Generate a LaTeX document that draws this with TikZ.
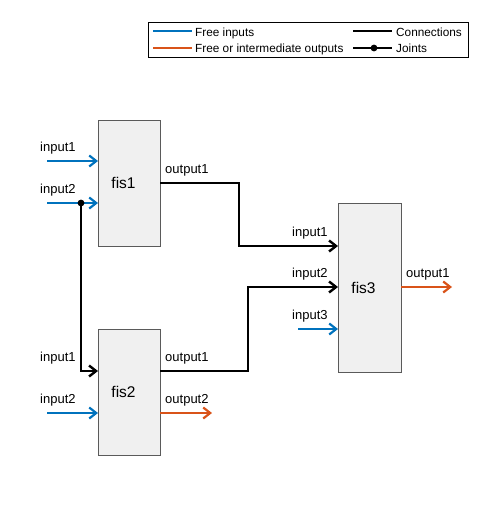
\documentclass[tikz,border=0pt]{standalone}
\usepackage{fontspec}
\setmainfont{Liberation Sans}
\usetikzlibrary{arrows.meta}

\definecolor{freeblue}{RGB}{0,114,189}
\definecolor{freeorange}{RGB}{217,83,25}
\definecolor{fisfill}{RGB}{240,240,240}
\definecolor{fisedge}{RGB}{90,90,90}

\begin{document}
\begin{tikzpicture}[
  x=1pt, y=-1pt, font=\fontsize{13}{15}\selectfont,
  fis/.style    ={rectangle, draw=fisedge, fill=fisfill, line width=0.9pt, anchor=north west,
                  inner xsep=13pt, inner ysep=0pt, align=left, minimum height=126pt,
                  text height=1.1em, text depth=0pt, font=\fontsize{15.5}{17}\selectfont},
  port/.style   ={anchor=base west, inner sep=0pt},
  legtext/.style={anchor=base west, inner sep=0pt, font=\fontsize{11.8}{13}\selectfont},
  tip/.style    ={-{Straight Barb[length=7pt, width=11pt]}},
  conn/.style   ={line width=2.4pt, black},
  freein/.style ={line width=2.2pt, freeblue},
  freeout/.style={line width=2.2pt, freeorange},
]
  \useasboundingbox (0,0) rectangle (490,505);

  % legend
  \node[draw, line width=0.8pt, fill=white, anchor=north west, minimum width=320pt,
        minimum height=35pt, inner sep=0pt] (legend) at (148,22) {};
  \foreach \n/\x/\y in {la/153/31, lb/153/48, lc/353/31, ld/353/48}
    \coordinate (\n) at (\x,\y);
  \foreach \n/\x/\y in {la/192/31, lb/192/48, lc/392/31, ld/392/48}
    \coordinate (\n-e) at (\x,\y);
  \draw[freein]  (la) -- (la-e);
  \draw[freeout] (lb) -- (lb-e);
  \draw[conn]    (lc) -- (lc-e);
  \draw[conn]    (ld) -- (ld-e);
  \fill (374,48) circle (3.4);
  \node[legtext] (la-t) at (195,36.5) {Free inputs};
  \node[legtext] (lb-t) at (195,53)   {Free or intermediate outputs};
  \node[legtext] (lc-t) at (396,36.5) {Connections};
  \node[legtext] (ld-t) at (396,53)   {Joints};

  % systems
  \node[fis, text width=36pt]                         (fis1) at (98,120)  {fis1};
  \node[fis, text width=36pt]                         (fis2) at (98,329)  {fis2};
  \node[fis, text width=37pt, minimum height=169pt]   (fis3) at (338,203) {fis3};

  % ports and free ends
  \foreach \n/\x/\y in {fis1-in1/98/161, fis1-in2/98/203, fis1-out1/160/183,
                        fis2-in1/98/371, fis2-in2/98/413, fis2-out1/160/371, fis2-out2/160/413,
                        fis3-in1/338/246, fis3-in2/338/287, fis3-in3/338/329, fis3-out1/401/287,
                        fis1-src1/47/161, fis1-src2/47/203, fis2-src2/47/413, fis3-src3/298/329,
                        fis2-snk2/212/413, fis3-snk1/452/287, joint/81/203}
    \coordinate (\n) at (\x,\y);

  % port labels
  \foreach \n/\x/\y/\t in {a1/40/151/input1, a2/40/193/input2, a3/165/173/output1,
                           b1/40/361/input1, b2/40/403/input2, b3/165/361/output1, b4/165/403/output2,
                           c1/292/236/input1, c2/292/277/input2, c3/292/319/input3, c4/406/277/output1}
    \node[port] (lab-\n) at (\x,\y) {\t};

  % free inputs and outputs
  \draw[freein, tip]  (fis1-src1) -- (fis1-in1);
  \draw[freein, tip]  (fis1-src2) -- (fis1-in2);
  \draw[freein, tip]  (fis2-src2) -- (fis2-in2);
  \draw[freein, tip]  (fis3-src3) -- (fis3-in3);
  \draw[freeout, tip] (fis2-out2) -- (fis2-snk2);
  \draw[freeout, tip] (fis3-out1) -- (fis3-snk1);

  % connections
  \draw[conn, tip] (fis1-out1) -- ++(79,0) |- (fis3-in1);
  \draw[conn, tip] (fis2-out1) -- ++(88,0) |- (fis3-in2);
  \draw[conn, tip] (joint) |- (fis2-in1);
  \fill (joint) circle (3.4);
\end{tikzpicture}
\end{document}
